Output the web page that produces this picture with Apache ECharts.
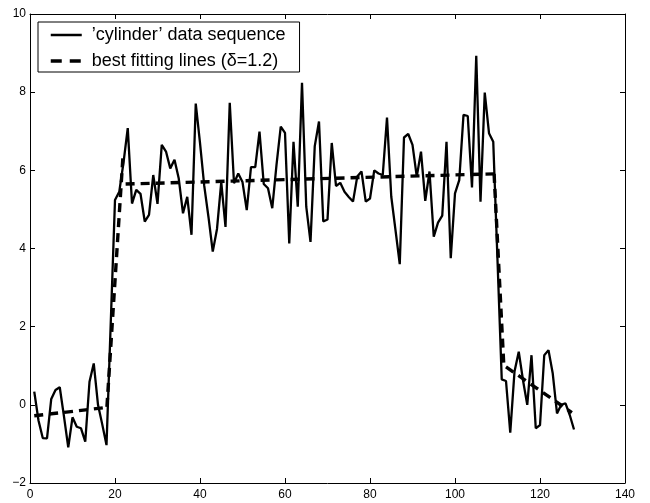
<!DOCTYPE html>
<html>
<head>
<meta charset="utf-8">
<script src="https://cdn.jsdelivr.net/npm/echarts@6/dist/echarts.min.js"></script>
<style>html,body{margin:0;padding:0;background:#fff}#c{width:650px;height:503px}</style>
</head>
<body>
<div id="c"></div>
<script>
// 'cylinder' data sequence, indices 1..128
const cylinderValues = [
  0.34, -0.40, -0.85, -0.86, 0.15, 0.38, 0.45, -0.30, -1.09, -0.32,
  -0.56, -0.60, -0.94, 0.59, 1.06, 0.00, -0.50, -1.03, 2.10, 5.24,
  5.45, 6.20, 7.08, 5.15, 5.50, 5.40, 4.69, 4.86, 5.88, 5.14,
  6.65, 6.48, 6.05, 6.27, 5.79, 4.90, 5.32, 4.35, 7.71, 6.70,
  5.60, 4.80, 3.92, 4.50, 5.70, 4.55, 7.73, 5.67, 5.92, 5.70,
  4.98, 6.08, 6.08, 6.99, 5.65, 5.54, 5.03, 6.14, 7.12, 6.96,
  4.13, 6.73, 5.07, 8.24, 5.07, 4.17, 6.62, 7.25, 4.69, 4.74,
  6.70, 5.60, 5.68, 5.45, 5.32, 5.20, 5.84, 5.97, 5.20, 5.28,
  6.00, 5.92, 5.88, 7.35, 5.33, 4.47, 3.60, 6.84, 6.93, 6.65,
  5.84, 6.48, 5.22, 5.97, 4.30, 4.66, 4.84, 6.73, 3.75, 5.41,
  5.75, 7.42, 7.39, 5.56, 8.93, 5.20, 7.99, 6.95, 6.73, 3.70,
  0.65, 0.61, -0.71, 0.85, 1.36, 0.63, 0.00, 1.27, -0.60, -0.52,
  1.27, 1.40, 0.80, -0.22, 0.00, 0.04, -0.26, -0.63
];
// best fitting line segments (start/end points)
const segStartX = [1, 18.1, 22.5, 109.2, 112];
const segStartY = [-0.28, -0.05, 5.65, 5.91, 0.97];
const segEndX   = [17.8, 21.9, 109.2, 111.5, 127.5];
const segEndY   = [-0.07, 6.4, 5.91, 0.97, -0.2];
// axes
const xTicks = [0, 20, 40, 60, 80, 100, 120, 140];
const yTicks = [-2, 0, 2, 4, 6, 8, 10];

const seriesName1 = '\u2019cylinder\u2019 data sequence';
const seriesName2 = 'best fitting lines (\u03b4=1.2)';
const FONT = 'Liberation Sans, Arial, Helvetica, sans-serif';
const fmt = v => String(v).replace('-', '\u2212');

const series = [{
  name: seriesName1,
  type: 'line',
  data: cylinderValues.map((v, i) => [i + 1, v]),
  showSymbol: false,
  symbol: 'none',
  lineStyle: { color: '#000', width: 2.3 },
  itemStyle: { color: '#000' },
  animation: false,
  z: 2
}];
for (let k = 0; k < segStartX.length; k++) {
  series.push({
    name: seriesName2,
    type: 'line',
    data: [[segStartX[k], segStartY[k]], [segEndX[k], segEndY[k]]],
    showSymbol: false,
    symbol: 'none',
    lineStyle: { color: '#000', width: 3.4, type: [9, 6] },
    itemStyle: { color: '#000' },
    animation: false,
    z: 3
  });
}

const axisCommon = {
  axisLine: { show: true, onZero: false, lineStyle: { color: '#000', width: 1 } },
  axisTick: { show: true, inside: true, length: 5, lineStyle: { color: '#000', width: 1 } },
  splitLine: { show: false }
};

const chart = echarts.init(document.getElementById('c'), null, { renderer: 'canvas' });
chart.setOption({
  animation: false,
  backgroundColor: '#fff',
  grid: { left: 30, right: 25, top: 14, bottom: 20 },
  legend: {
    orient: 'vertical',
    left: 38,
    top: 22,
    borderColor: '#000',
    borderWidth: 1,
    padding: [4, 14, 2, 11],
    itemWidth: 31,
    itemHeight: 14,
    itemGap: 8,
    selectedMode: false,
    backgroundColor: '#fff',
    itemStyle: { opacity: 0 },
    textStyle: { fontSize: 18, fontFamily: FONT, color: '#000', padding: [0, 0, 0, 5] },
    data: [
      { name: seriesName1, itemStyle: { opacity: 0 }, lineStyle: { color: '#000', width: 2.5, type: 'solid', opacity: 1 } },
      { name: seriesName2, itemStyle: { opacity: 0 }, lineStyle: { color: '#000', width: 3.5, type: [11, 8], opacity: 1 } }
    ]
  },
  xAxis: [
    Object.assign({ type: 'value', position: 'bottom', min: xTicks[0], max: xTicks[xTicks.length - 1], interval: 20,
      axisLabel: { show: true, margin: 6, fontSize: 12, fontFamily: FONT, color: '#000', formatter: fmt } }, axisCommon),
    Object.assign({ type: 'value', position: 'top', min: xTicks[0], max: xTicks[xTicks.length - 1], interval: 20,
      axisLabel: { show: false } }, axisCommon)
  ],
  yAxis: [
    Object.assign({ type: 'value', position: 'left', min: yTicks[0], max: yTicks[yTicks.length - 1], interval: 2,
      axisLabel: { show: true, margin: 4, fontSize: 12, fontFamily: FONT, color: '#000', formatter: fmt } }, axisCommon),
    Object.assign({ type: 'value', position: 'right', min: yTicks[0], max: yTicks[yTicks.length - 1], interval: 2,
      axisLabel: { show: false } }, axisCommon)
  ],
  series: series
});
</script>
</body>
</html>
